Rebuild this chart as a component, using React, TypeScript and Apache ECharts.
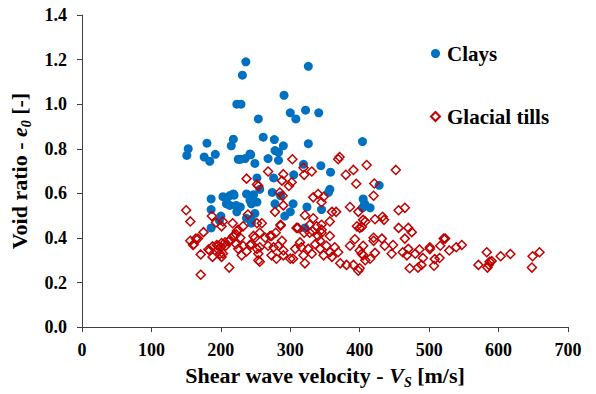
import React, { useEffect, useRef } from "react";
import * as echarts from "echarts";

const xTicks = [0, 100, 200, 300, 400, 500, 600, 700];
const yTicks = [0, 0.2, 0.4, 0.6, 0.8, 1.0, 1.2, 1.4];

const clayVs = [153, 151, 180, 176, 184, 192, 215, 218, 225, 186, 203, 213, 219, 208, 213, 222, 186, 200, 186, 198,
  236, 231, 223, 229, 254, 242, 326, 291, 300, 308, 322, 341, 261, 277, 290, 326, 404, 283, 228, 235,
  243, 249, 252, 218, 209, 228, 237, 246, 242, 252, 223, 237, 249, 244, 268, 283, 278, 276, 305, 319,
  344, 358, 256, 274, 247, 244, 278, 304, 286, 357, 355, 324, 345, 405, 407, 292, 300, 321, 244, 428,
  415, 404];
const clayE = [0.80, 0.77, 0.825, 0.763, 0.744, 0.775, 0.813, 0.843, 0.753, 0.575, 0.585, 0.59, 0.592, 0.553, 0.546, 0.546, 0.527, 0.498, 0.445, 0.478,
  1.19, 1.13, 1.00, 1.00, 0.934, 0.777, 1.17, 1.04, 0.961, 0.934, 0.973, 0.961, 0.852, 0.841, 0.813, 0.823, 0.832, 0.784, 0.753, 0.756,
  0.773, 0.734, 0.669, 0.597, 0.556, 0.539, 0.597, 0.589, 0.568, 0.561, 0.517, 0.488, 0.51, 0.466, 0.756, 0.748, 0.792, 0.669, 0.683, 0.73,
  0.724, 0.695, 0.618, 0.604, 0.594, 0.553, 0.553, 0.553, 0.589, 0.618, 0.604, 0.539, 0.527, 0.575, 0.553, 0.498, 0.517, 0.445, 0.481, 0.636,
  0.535, 0.535];

const tillVs = [150, 156, 187, 193, 203, 201, 217, 175, 156, 161, 167, 171, 182, 188, 188, 196, 200, 206, 213, 212, 171, 222, 222, 225,
  237, 252, 239, 232, 252,
  371, 369, 303, 319, 331, 320, 268, 290, 288, 302, 298, 254, 391, 380, 395, 410, 285, 289, 290, 278, 333, 340, 348, 345, 360, 366, 386, 398, 405, 396,
  259, 286, 279, 256, 271, 321, 333, 345, 357, 328, 332, 345, 311, 320,
  452, 421, 420, 408, 422, 433, 435, 456, 465, 456, 470, 475, 465, 420, 432, 521,
  403, 420, 436, 448, 446, 422, 415, 405, 403, 408, 400, 462, 470, 480, 486, 468, 491, 489, 484, 472, 501, 501, 516, 523, 529, 539, 547, 508, 515, 507,
  583, 571, 584, 587, 590, 586, 603, 617, 649, 659, 648,
  164, 160, 184, 194, 201, 196, 199, 203, 207, 211, 201, 218, 223, 228, 232, 225, 237, 230, 242, 249, 252, 254,
  247, 244, 256, 254, 256, 264, 273, 268, 276, 283, 288, 290, 280, 273, 290, 300, 304, 307, 314, 316, 319, 326, 321, 331, 336, 343, 343, 348, 352, 357,
  360, 364, 369, 372, 381, 386, 393, 400, 405, 391, 398, 400, 340, 345, 309, 328, 338, 357, 286];
const tillE = [0.524, 0.474, 0.498, 0.469, 0.474, 0.452, 0.466, 0.426, 0.387, 0.372, 0.397, 0.326, 0.348, 0.362, 0.315, 0.365, 0.358, 0.38, 0.391, 0.267, 0.235, 0.416, 0.372, 0.437,
  0.666, 0.64, 0.505, 0.452, 0.466,
  0.763, 0.753, 0.753, 0.715, 0.698, 0.683, 0.698, 0.686, 0.657, 0.65, 0.633, 0.633, 0.705, 0.683, 0.643, 0.727, 0.604, 0.589, 0.546, 0.517, 0.582, 0.597, 0.585, 0.56, 0.517, 0.517, 0.539, 0.517, 0.481, 0.452,
  0.466, 0.459, 0.423, 0.423, 0.409, 0.502, 0.488, 0.459, 0.474, 0.459, 0.431, 0.423, 0.445, 0.423,
  0.705, 0.644, 0.589, 0.474, 0.484, 0.495, 0.481, 0.524, 0.535, 0.445, 0.445, 0.426, 0.397, 0.401, 0.397, 0.397,
  0.449, 0.387, 0.365, 0.368, 0.329, 0.333, 0.307, 0.365, 0.329, 0.30, 0.264, 0.336, 0.351, 0.329, 0.348, 0.322, 0.31, 0.279, 0.267, 0.264, 0.358, 0.35, 0.365, 0.397, 0.344, 0.358, 0.368, 0.305, 0.31, 0.275,
  0.336, 0.279, 0.267, 0.293, 0.296, 0.28, 0.318, 0.328, 0.318, 0.336, 0.267,
  0.397, 0.368, 0.344, 0.368, 0.377, 0.348, 0.329, 0.33, 0.365, 0.383, 0.315, 0.409, 0.431, 0.401, 0.365, 0.351, 0.339, 0.322, 0.368, 0.401, 0.351, 0.30,
  0.409, 0.372, 0.358, 0.329, 0.293, 0.401, 0.409, 0.365, 0.358, 0.365, 0.387, 0.344, 0.307, 0.322, 0.322, 0.307, 0.307, 0.351, 0.38, 0.358, 0.322, 0.351, 0.286, 0.329, 0.372, 0.351, 0.387, 0.322, 0.365, 0.336,
  0.315, 0.358, 0.336, 0.286, 0.279, 0.365, 0.394, 0.344, 0.322, 0.279, 0.253, 0.445, 0.409, 0.437, 0.445, 0.423, 0.452, 0.409, 0.455];

const FONT = "Liberation Serif";

export default function App() {
  const ref = useRef<HTMLDivElement>(null);
  useEffect(() => {
    if (!ref.current) return;
    const chart = echarts.init(ref.current, undefined, { renderer: "svg" });
    const clays = clayVs.map((v, i) => [v, clayE[i]]);
    const tills = tillVs.map((v, i) => [v, tillE[i]]);
    const nameRich = {
      n: { fontFamily: FONT, fontWeight: "bold", fontSize: 22, color: "#000", lineHeight: 28 },
      i: { fontFamily: FONT, fontWeight: "bold", fontStyle: "italic", fontSize: 22, color: "#000", lineHeight: 28 },
      s: { fontFamily: FONT, fontWeight: "bold", fontStyle: "italic", fontSize: 14, color: "#000", lineHeight: 28, verticalAlign: "bottom" },
    };
    chart.setOption({
      animation: false,
      backgroundColor: "#fff",
      textStyle: { fontFamily: FONT },
      grid: { left: 82, right: 28, top: 15, bottom: 56.5 },
      legend: {
        orient: "vertical",
        left: 425,
        top: 38,
        itemGap: 42,
        itemWidth: 9,
        itemHeight: 9,
        textStyle: { fontFamily: FONT, fontWeight: "bold", fontSize: 21, color: "#000", padding: [0, 0, 0, 2] },
        data: ["Clays", "Glacial tills"],
      },
      xAxis: {
        type: "value",
        min: 0,
        max: 700,
        interval: 100,
        splitLine: { show: false },
        axisLine: { lineStyle: { color: "#404040", width: 1 } },
        axisTick: { show: true, length: 5, lineStyle: { color: "#404040" } },
        axisLabel: { fontFamily: FONT, fontWeight: "bold", fontSize: 18, color: "#000", margin: 14,
          formatter: (v: number) => (xTicks.includes(v) ? String(v) : "") },
        name: "{n|Shear wave velocity - }{i|V}{s|S}{n| [m/s]}",
        nameLocation: "middle",
        nameGap: 30,
        nameTextStyle: { fontFamily: FONT, rich: nameRich },
      },
      yAxis: {
        type: "value",
        min: 0,
        max: 1.4,
        interval: 0.2,
        splitLine: { show: false },
        axisLine: { show: true, lineStyle: { color: "#404040", width: 1 } },
        axisTick: { show: true, length: 5, lineStyle: { color: "#404040" } },
        axisLabel: { fontFamily: FONT, fontWeight: "bold", fontSize: 18, color: "#000", margin: 15,
          formatter: (v: number) => (yTicks.some((t) => Math.abs(t - v) < 1e-6) ? v.toFixed(1) : "") },
        name: "{n|Void ratio - }{i|e}{s|0}{n| [-]}",
        nameLocation: "middle",
        nameGap: 49,
        nameTextStyle: { fontFamily: FONT, rich: nameRich },
      },
      series: [
        {
          name: "Clays",
          type: "scatter",
          symbol: "circle",
          symbolSize: 9,
          itemStyle: { color: "#0070C0", opacity: 1 },
          data: clays,
          z: 2,
        },
        {
          name: "Glacial tills",
          type: "scatter",
          symbol: "diamond",
          symbolSize: 9,
          itemStyle: { color: "rgba(255,255,255,0)", borderColor: "#C00000", borderWidth: 1.5, opacity: 1 },
          data: tills,
          z: 3,
        },
      ],
    });
    return () => chart.dispose();
  }, []);
  return <div ref={ref} style={{ position: "fixed", left: 0, top: 0, width: 596, height: 394 }} />;
}
